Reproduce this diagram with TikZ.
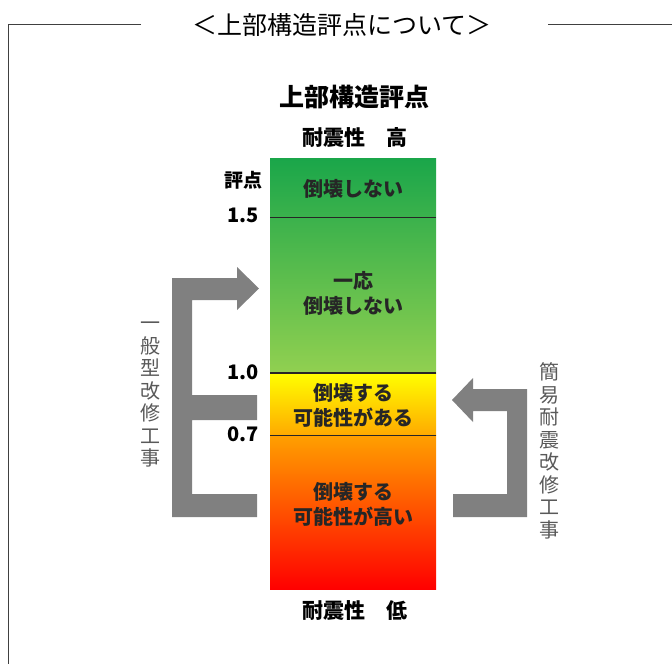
\documentclass[tikz,border=0pt]{standalone}
\usepackage{fontspec}
\setmainfont{Noto Sans CJK JP}
\definecolor{frameGray}{HTML}{404040}
\definecolor{arrowGray}{HTML}{808080}
\definecolor{topGreen}{RGB}{26,166,74}
\definecolor{lowGreen}{RGB}{145,208,80}
\definecolor{scoreYellow}{RGB}{255,255,0}
\definecolor{scoreOrange}{RGB}{255,170,0}
\definecolor{deepOrange}{RGB}{255,160,0}
\definecolor{scoreRed}{RGB}{255,0,0}
\begin{document}
\begin{tikzpicture}[x=1pt, y=-1pt,
    heading/.style={font=\bfseries\fontsize{25}{30}\selectfont},
    sublabel/.style={font=\bfseries\fontsize{21}{25}\selectfont},
    scorelabel/.style={font=\bfseries\fontsize{20}{24}\selectfont, anchor=east},
    bartext/.style={font=\bfseries\fontsize{20}{25}\selectfont, align=center, text=black!85},
    worklabel/.style={font=\fontsize{20}{22.5}\selectfont, align=center, text=black!65},
    bararrow/.style={fill=arrowGray, draw=none},
    level/.style={draw=black!85}]
    \useasboundingbox (0,0) rectangle (672,664);

    % frame round the picture
    \draw[frameGray, line width=1.5pt] (141,24.5) -- (8.5,24.5) -- (8.5,664);
    \draw[frameGray, line width=1.5pt] (548,24.5) -- (672,24.5);
    \node[font=\fontsize{25}{30}\selectfont] (title) at (342,25) {＜上部構造評点について＞};

    % the score bar
    \shade[top color=topGreen, bottom color=lowGreen] (270,158) rectangle (436,373);
    \shade[top color=scoreYellow, bottom color=scoreOrange] (270,373) rectangle (436,435);
    \shade[top color=deepOrange, bottom color=scoreRed] (270,435) rectangle (436,589);
    \draw[level, line width=1pt] (270,217) -- (436,217);
    \draw[level, line width=2pt] (270,373) -- (436,373);
    \draw[level, line width=1pt] (270,435) -- (436,435);

    \node[heading] (head) at (354,97) {上部構造評点};
    \node[sublabel] (high) at (355,138) {耐震性　高};
    \node[sublabel] (low) at (355,611) {耐震性　低};
    \node[font=\bfseries\fontsize{19}{24}\selectfont] (score) at (243,180) {評点};
    \node[scorelabel] (s15) at (262,215) {1.5};
    \node[scorelabel] (s10) at (262,372) {1.0};
    \node[scorelabel] (s07) at (262,434) {0.7};

    \node[bartext] (safe) at (353,189) {倒壊しない};
    \node[bartext] (mostly) at (353,293) {一応\\倒壊しない};
    \node[bartext] (maybe) at (353,405) {倒壊する\\可能性がある};
    \node[bartext] (likely) at (353,504) {倒壊する\\可能性が高い};

    % general retrofit (left)
    \fill[bararrow] (172,278) -- (237,278) -- (237,267) -- (259,288.5) -- (237,310) -- (237,300)
        -- (192,300) -- (192,395) -- (257,395) -- (257,420) -- (192,420) -- (192,494)
        -- (257,494) -- (257,517) -- (172,517) -- cycle;
    \node[worklabel] (general) at (150,395) {一\\般\\型\\改\\修\\工\\事};

    % simple retrofit (right)
    \fill[bararrow] (527,389) -- (473,389) -- (473,378) -- (452,400) -- (473,422) -- (473,411)
        -- (507,411) -- (507,494) -- (453,494) -- (453,517) -- (527,517) -- cycle;
    \node[worklabel] (simple) at (549,451) {簡\\易\\耐\\震\\改\\修\\工\\事};

\end{tikzpicture}
\end{document}
